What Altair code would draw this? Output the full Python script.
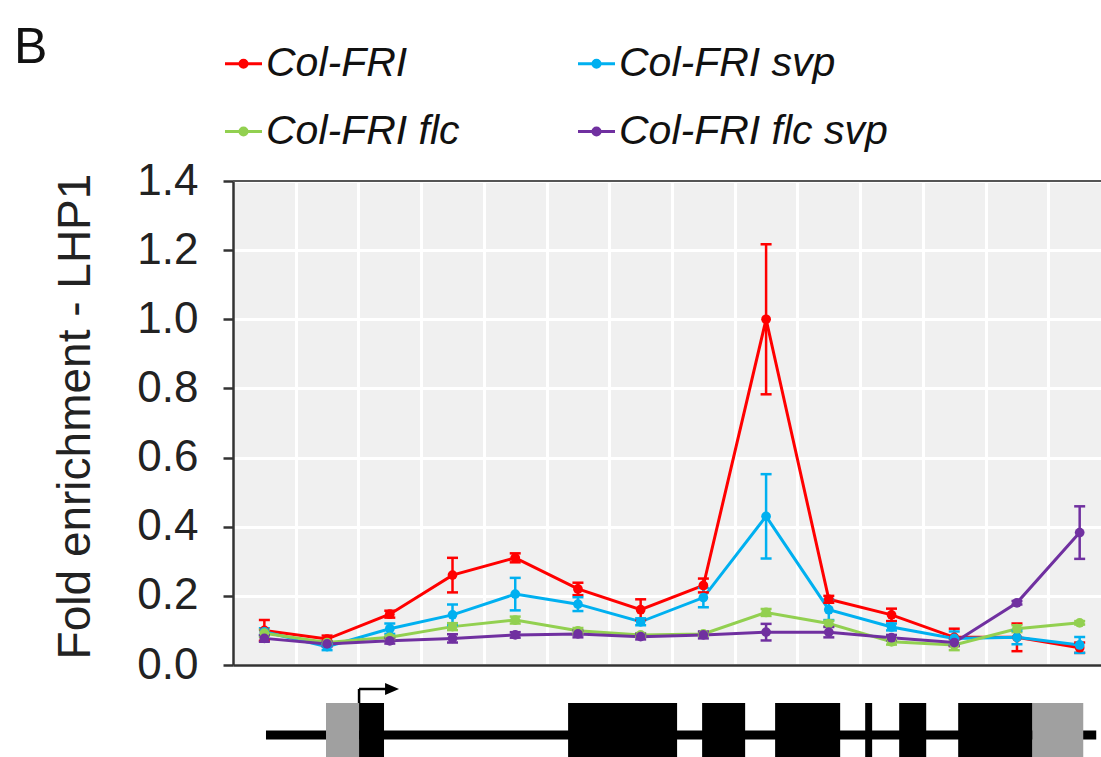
import altair as alt
import pandas as pd

FONT = "Liberation Sans"

# ---------------- data ----------------
positions = list(range(1, 15))
series_names = ["Col-FRI", "Col-FRI svp", "Col-FRI flc", "Col-FRI flc svp"]
series_colors = ["#FF0000", "#00B0F0", "#92D050", "#7030A0"]
# legend reading order (filled column by column)
legend_order = ["Col-FRI", "Col-FRI flc", "Col-FRI svp", "Col-FRI flc svp"]
legend_colors = ["#FF0000", "#92D050", "#00B0F0", "#7030A0"]

col_fri = [0.100, 0.075, 0.147, 0.260, 0.310, 0.220, 0.160, 0.230, 1.000, 0.190, 0.145, 0.080, 0.080, 0.050]
col_fri_err = [0.030, 0.010, 0.010, 0.050, 0.013, 0.018, 0.030, 0.020, 0.217, 0.010, 0.018, 0.025, 0.040, 0.015]

col_fri_svp = [0.096, 0.053, 0.105, 0.145, 0.205, 0.176, 0.125, 0.195, 0.430, 0.160, 0.110, 0.077, 0.080, 0.058]
col_fri_svp_err = [0.010, 0.010, 0.015, 0.030, 0.047, 0.020, 0.010, 0.028, 0.122, 0.030, 0.010, 0.020, 0.020, 0.023]

col_fri_flc = [0.092, 0.065, 0.080, 0.111, 0.130, 0.099, 0.087, 0.090, 0.152, 0.120, 0.067, 0.058, 0.105, 0.122]
col_fri_flc_err = [0.010, 0.005, 0.005, 0.010, 0.010, 0.008, 0.005, 0.005, 0.010, 0.008, 0.008, 0.015, 0.010, 0.005]

col_fri_flc_svp = [0.077, 0.061, 0.070, 0.077, 0.087, 0.090, 0.082, 0.087, 0.095, 0.095, 0.079, 0.065, 0.180, 0.383]
col_fri_flc_svp_err = [0.010, 0.008, 0.008, 0.012, 0.008, 0.010, 0.008, 0.010, 0.024, 0.015, 0.008, 0.010, 0.005, 0.076]

y_ticks = [0.0, 0.2, 0.4, 0.6, 0.8, 1.0, 1.2, 1.4]
x_grid = [1.5, 2.5, 3.5, 4.5, 5.5, 6.5, 7.5, 8.5, 9.5, 10.5, 11.5, 12.5, 13.5]
x_domain = [0.5, 14.34]

# gene model (in the same positional units as the amplicons)
gene_span = [1.026, 14.264]
utr_starts = [1.983, 13.243]
utr_ends = [2.510, 14.057]
exon_starts = [2.510, 5.843, 7.980, 9.144, 10.580, 11.122, 12.063]
exon_ends = [2.908, 7.581, 8.666, 10.181, 10.691, 11.553, 13.243]
tss = [2.510]
arrow_head = [3.036]

# ---------------- tables ----------------
rows = []
for name, vals, errs in zip(
    series_names,
    [col_fri, col_fri_svp, col_fri_flc, col_fri_flc_svp],
    [col_fri_err, col_fri_svp_err, col_fri_flc_err, col_fri_flc_svp_err],
):
    for p, v, e in zip(positions, vals, errs):
        rows.append({"pos": p, "series": name, "val": v, "lo": v - e, "hi": v + e})
df = pd.DataFrame(rows)

PLOT_W = 868
PLOT_H = 484

xscale = alt.Scale(domain=x_domain, nice=False, zero=False)
yscale = alt.Scale(domain=[0, 1.4], nice=False, zero=True)
cscale = alt.Scale(domain=legend_order, range=legend_colors)

legend_path = (
    "M-1,0L1,0"
    "M0.19,0A0.19,0.19 0 1,1 -0.19,0A0.19,0.19 0 1,1 0.19,0"
    "M0.08,0A0.08,0.08 0 1,1 -0.08,0A0.08,0.08 0 1,1 0.08,0"
)
legend = alt.Legend(
    title=None, orient="none", legendX=-10, legendY=-138, columns=2,
    columnPadding=112, rowPadding=26, symbolType=legend_path, symbolSize=1369,
    symbolStrokeWidth=3, labelFontSize=41, labelFontStyle="italic", labelFont=FONT,
    labelColor="#111", labelOffset=2, padding=0, labelLimit=500,
)

x_axis = alt.Axis(values=x_grid, grid=True, gridColor="white", gridWidth=3, gridOpacity=1,
                  ticks=False, labels=False, title=None, domainColor="#333", domainWidth=2.5)
y_axis = alt.Axis(values=y_ticks, format=".1f", title="Fold enrichment - LHP1",
                  tickSize=10, tickWidth=2.5, tickColor="#333", domainColor="#333", domainWidth=2.5,
                  labelFontSize=44, labelPadding=25, labelColor="#222", labelFont=FONT,
                  labelFlush=False, labelOverlap=False,
                  titleFontSize=46, titleFont=FONT, titleFontWeight="normal", titleColor="#222",
                  titlePadding=37, titleY=235,
                  grid=True, gridColor="white", gridWidth=3, gridOpacity=1)

base = alt.Chart(df)
X = alt.X("pos:Q", scale=xscale, axis=x_axis)

lines = base.mark_line(strokeWidth=3).encode(
    x=X, y=alt.Y("val:Q", scale=yscale, axis=y_axis),
    color=alt.Color("series:N", scale=cscale, legend=legend),
)
err = base.mark_rule(strokeWidth=2.5).encode(
    x=X, y=alt.Y("lo:Q", scale=yscale), y2="hi:Q",
    color=alt.Color("series:N", scale=cscale, legend=None),
)
cap_lo = base.mark_tick(orient="horizontal", size=11, thickness=2.5, opacity=1).encode(
    x=X, y=alt.Y("lo:Q", scale=yscale),
    color=alt.Color("series:N", scale=cscale, legend=None),
)
cap_hi = base.mark_tick(orient="horizontal", size=11, thickness=2.5, opacity=1).encode(
    x=X, y=alt.Y("hi:Q", scale=yscale),
    color=alt.Color("series:N", scale=cscale, legend=None),
)
pts = base.mark_circle(size=95, opacity=1).encode(
    x=X, y=alt.Y("val:Q", scale=yscale),
    color=alt.Color("series:N", scale=cscale, legend=None),
)

top_border = alt.Chart(pd.DataFrame({"a": [0]})).mark_rule(color="#555", strokeWidth=2).encode(
    x=alt.value(0), x2=alt.value(PLOT_W), y=alt.value(0)
)

panel = alt.Chart(pd.DataFrame({"label": ["B"]})).mark_text(
    font=FONT, fontSize=50, color="#111", align="left", baseline="alphabetic"
).encode(text="label:N", x=alt.value(-219), y=alt.value(-118))

# gene diagram below the plot
backbone = alt.Chart(pd.DataFrame({"s": [gene_span[0]], "e": [gene_span[1]]})).mark_rule(
    color="black", strokeWidth=9
).encode(x=alt.X("s:Q", scale=xscale), x2="e:Q", y=alt.value(554))
utr = alt.Chart(pd.DataFrame({"s": utr_starts, "e": utr_ends})).mark_rect(color="#A0A0A0").encode(
    x=alt.X("s:Q", scale=xscale), x2="e:Q", y=alt.value(522), y2=alt.value(586)
)
exons = alt.Chart(pd.DataFrame({"s": exon_starts, "e": exon_ends})).mark_rect(color="black").encode(
    x=alt.X("s:Q", scale=xscale), x2="e:Q", y=alt.value(522), y2=alt.value(586)
)
tss_df = pd.DataFrame({"t": tss, "h": arrow_head})
tss_v = alt.Chart(tss_df).mark_rule(color="black", strokeWidth=2.5).encode(
    x=alt.X("t:Q", scale=xscale), y=alt.value(508), y2=alt.value(522)
)
tss_h = alt.Chart(tss_df).mark_rule(color="black", strokeWidth=2.5).encode(
    x=alt.X("t:Q", scale=xscale), x2="h:Q", y=alt.value(508)
)
tss_head = alt.Chart(tss_df).mark_point(
    shape="M-1,-0.85L1,0L-1,0.85Z", filled=True, size=196, color="black", opacity=1
).encode(x=alt.X("h:Q", scale=xscale), y=alt.value(508))

chart = alt.layer(
    lines, err, cap_lo, cap_hi, pts, top_border, panel,
    backbone, utr, exons, tss_v, tss_h, tss_head,
).properties(
    width=PLOT_W, height=PLOT_H, background="white",
    autosize=alt.AutoSizeParams(type="none"),
    padding={"left": 233, "top": 181, "right": 0, "bottom": 92},
).configure_view(
    fill="#F0F0F0", stroke=None
)

chart.save("out.html", embed_options={"renderer": "svg", "actions": False})
